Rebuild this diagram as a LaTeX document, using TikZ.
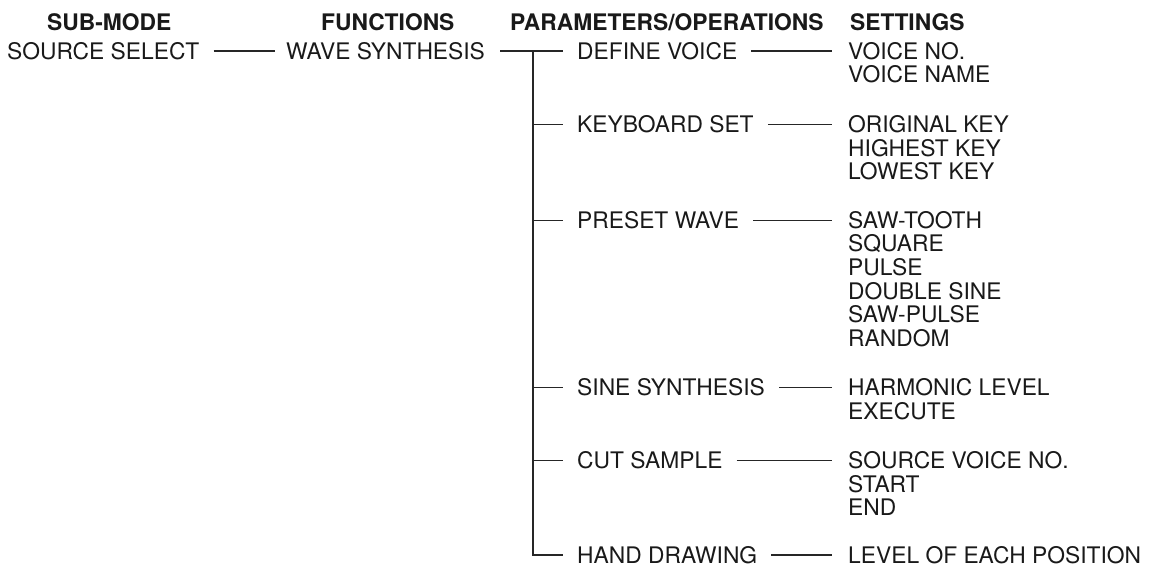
\documentclass[tikz,border=0pt]{standalone}
\usepackage{fontspec}
\setmainfont{TeX Gyre Heros}
\begin{document}
\begin{tikzpicture}[x=1pt,y=-1pt,
  txt/.style={font=\fontsize{22.8}{24}\selectfont, inner sep=0pt, anchor=west, text=black!90},
  hdr/.style={txt, font=\fontsize{22.8}{24}\selectfont\bfseries},
  wire/.style={line width=1.9pt, draw=black!85, line join=miter},
  pline/.style={wire, shorten <=14pt, shorten >=16pt}]
\useasboundingbox (0,0) rectangle (1151,567);
% headers
\node[hdr] (hSub) at (47,22) {SUB-MODE};
\node[hdr] (hFun) at (321,22) {FUNCTIONS};
\node[hdr] (hPar) at (510,22) {PARAMETERS/OPERATIONS};
\node[hdr] (hSet) at (850,22) {SETTINGS};
% sub-mode and function
\node[txt] (src) at (7,51) {SOURCE SELECT};
\node[txt] (wave) at (286,51) {WAVE SYNTHESIS};
% parameters
\node[txt] (pDef) at (577,51) {DEFINE VOICE};
\node[txt] (pKey) at (577,124.5) {KEYBOARD SET};
\node[txt] (pPre) at (577,220.5) {PRESET WAVE};
\node[txt] (pSin) at (577,387.5) {SINE SYNTHESIS};
\node[txt] (pCut) at (577,460.5) {CUT SAMPLE};
\node[txt] (pHand) at (577,555) {HAND DRAWING};
% settings
\node[txt] (sVno) at (848,51) {VOICE NO.};
\node[txt] (sVna) at (848,74.5) {VOICE NAME};
\node[txt] (sOrig) at (848,124.5) {ORIGINAL KEY};
\node[txt] (sHigh) at (848,148) {HIGHEST KEY};
\node[txt] (sLow) at (848,171.5) {LOWEST KEY};
\node[txt] (sSaw) at (848,220.5) {SAW-TOOTH};
\node[txt] (sSqu) at (848,244) {SQUARE};
\node[txt] (sPul) at (848,267.5) {PULSE};
\node[txt] (sDbl) at (848,291) {DOUBLE SINE};
\node[txt] (sSawP) at (848,314.5) {SAW-PULSE};
\node[txt] (sRnd) at (848,338) {RANDOM};
\node[txt] (sHarm) at (848,387.5) {HARMONIC LEVEL};
\node[txt] (sExe) at (848,411) {EXECUTE};
\node[txt] (sSrc) at (848,460.5) {SOURCE VOICE NO.};
\node[txt] (sStart) at (848,484) {START};
\node[txt] (sEnd) at (848,507.5) {END};
\node[txt] (sLev) at (848,555) {LEVEL OF EACH POSITION};
% connectors
\coordinate (jt) at (533,52);
\draw[wire, shorten <=14pt, shorten >=11pt] (src) -- (wave);
\draw[wire, shorten <=15pt, shorten >=14pt] (wave) -- (pDef);
\draw[wire, shorten >=14pt] (jt) -- (jt |- pHand.west) -- (pHand);
\draw[wire, shorten >=14pt] (jt |- pKey.west) -- (pKey);
\draw[wire, shorten >=14pt] (jt |- pPre.west) -- (pPre);
\draw[wire, shorten >=14pt] (jt |- pSin.west) -- (pSin);
\draw[wire, shorten >=14pt] (jt |- pCut.west) -- (pCut);
\draw[pline] (pDef) -- (sVno);
\draw[pline] (pKey) -- (sOrig);
\draw[pline] (pPre) -- (sSaw);
\draw[pline] (pSin) -- (sHarm);
\draw[pline] (pCut) -- (sSrc);
\draw[pline] (pHand) -- (sLev);
\end{tikzpicture}
\end{document}
